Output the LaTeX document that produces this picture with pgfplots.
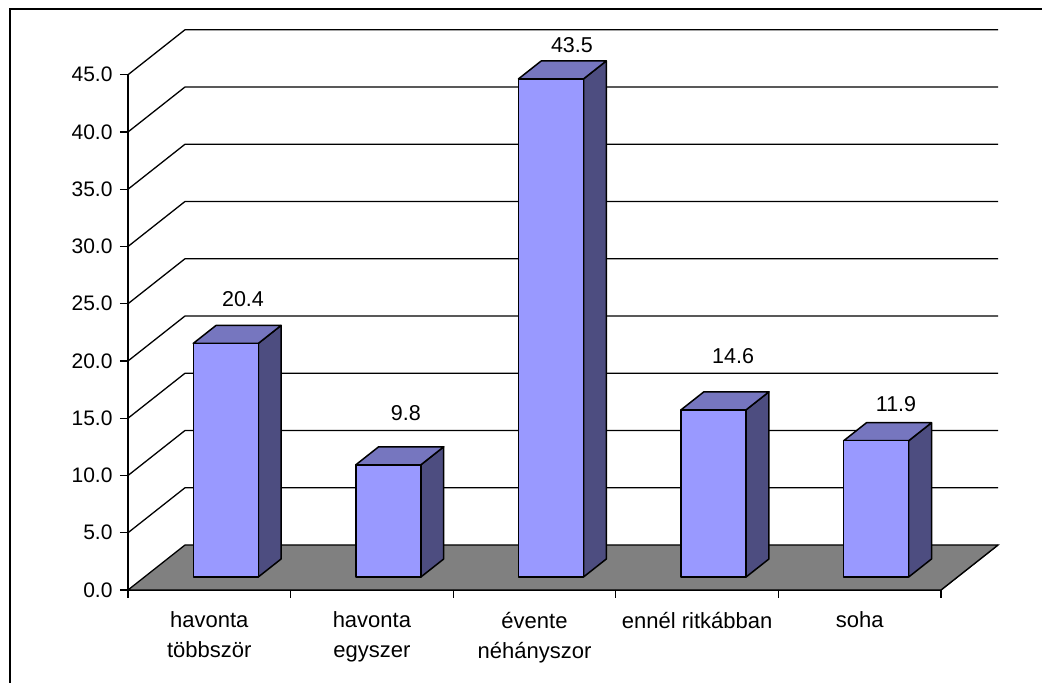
\documentclass[border=0pt]{standalone}
\usepackage{pgfplots}
\pgfplotsset{compat=1.18}
\usepackage{fontspec}
\setmainfont{Liberation Sans}
\definecolor{barfront}{HTML}{9999FF}
\definecolor{barside}{HTML}{4D4D80}
\definecolor{bartop}{HTML}{7676BF}
\definecolor{floorgray}{HTML}{808080}
% one 3D column: left x, right x, value
\newcommand{\column}[3]{%
  \addplot3[draw=black,line width=1.5pt,line join=round,fill=barside,forget plot] coordinates {(#2,0.289,0) (#2,0.689,0) (#2,0.689,#3) (#2,0.289,#3)} -- cycle;
  \addplot3[draw=black,line width=1.5pt,line join=round,fill=bartop,forget plot] coordinates {(#1,0.289,#3) (#2,0.289,#3) (#2,0.689,#3) (#1,0.689,#3)} -- cycle;
  \addplot3[draw=black,line width=1.5pt,line join=round,fill=barfront,forget plot] coordinates {(#1,0.289,0) (#2,0.289,0) (#2,0.289,#3) (#1,0.289,#3)} -- cycle;
}
% one gridline along the side wall and the back wall
\newcommand{\gridat}[1]{%
  \addplot3[draw=black,line width=1.3pt,forget plot] coordinates {(0,0,#1) (0,1,#1) (5,1,#1)};
}
\begin{document}
\begin{tikzpicture}[x=1pt,y=1pt]
\useasboundingbox (0,0) rectangle (1042,683);
\draw[line width=2pt] (10,0) -- (10,673.5) -- (1042,673.5);
\begin{axis}[
  at={(128pt,93pt)}, anchor=origin,
  x={(162.6pt,0pt)}, y={(57pt,45pt)}, z={(0pt,11.45pt)},
  xmin=0, xmax=5, ymin=0, ymax=1, zmin=0, zmax=45,
  clip=false,
  axis lines=left,
  axis line style={-,line width=1.3pt,black},
  tick style={black,line width=1.3pt},
  major tick length=0pt,
  minor tick length=0pt,
  ytick=\empty,
  xtick={0.5,1.5,2.5,3.5,4.5},
  xticklabels={{havonta\\többször},{havonta\\egyszer},{évente\\néhányszor},{ennél ritkábban},{soha}},
  x tick label style={font=\fontsize{22}{30}\selectfont,align=center,anchor=north,yshift=-18.5pt},
  ztick={0,5,...,45},
  z tick label style={font=\fontsize{21}{24}\selectfont,anchor=east,xshift=-12pt},
  /pgf/number format/assume math mode=true,
  /pgf/number format/fixed,
  /pgf/number format/fixed zerofill,
  /pgf/number format/precision=1,
]
% floor
\addplot3[draw=black,line width=1.3pt,fill=floorgray,forget plot] coordinates {(0,0,0) (5,0,0) (5,1,0) (0,1,0)} -- cycle;
% gridlines
\gridat{5}\gridat{10}\gridat{15}\gridat{20}\gridat{25}\gridat{30}\gridat{35}\gridat{40}\gridat{45}
% tick marks
\addplot3[draw=black,line width=1.3pt,forget plot] coordinates {(0,0,0) (0,0,-0.7)};
\addplot3[draw=black,line width=1.3pt,forget plot] coordinates {(1,0,0) (1,0,-0.7)};
\addplot3[draw=black,line width=1.3pt,forget plot] coordinates {(2,0,0) (2,0,-0.7)};
\addplot3[draw=black,line width=1.3pt,forget plot] coordinates {(3,0,0) (3,0,-0.7)};
\addplot3[draw=black,line width=1.3pt,forget plot] coordinates {(4,0,0) (4,0,-0.7)};
\addplot3[draw=black,line width=1.3pt,forget plot] coordinates {(5,0,0) (5,0,-0.7)};
\addplot3[draw=black,line width=1.3pt,forget plot] coordinates {(-0.05,0,0) (0,0,0)};
\addplot3[draw=black,line width=1.3pt,forget plot] coordinates {(-0.05,0,5) (0,0,5)};
\addplot3[draw=black,line width=1.3pt,forget plot] coordinates {(-0.05,0,10) (0,0,10)};
\addplot3[draw=black,line width=1.3pt,forget plot] coordinates {(-0.05,0,15) (0,0,15)};
\addplot3[draw=black,line width=1.3pt,forget plot] coordinates {(-0.05,0,20) (0,0,20)};
\addplot3[draw=black,line width=1.3pt,forget plot] coordinates {(-0.05,0,25) (0,0,25)};
\addplot3[draw=black,line width=1.3pt,forget plot] coordinates {(-0.05,0,30) (0,0,30)};
\addplot3[draw=black,line width=1.3pt,forget plot] coordinates {(-0.05,0,35) (0,0,35)};
\addplot3[draw=black,line width=1.3pt,forget plot] coordinates {(-0.05,0,40) (0,0,40)};
\addplot3[draw=black,line width=1.3pt,forget plot] coordinates {(-0.05,0,45) (0,0,45)};
% columns
\column{0.30}{0.70}{20.4}
\column{1.30}{1.70}{9.8}
\column{2.30}{2.70}{43.5}
\column{3.30}{3.70}{14.6}
\column{4.30}{4.70}{11.9}
% value labels
\node[font=\fontsize{21.5}{24}\selectfont] at (axis cs:0.532,0.5,23.4) {20.4};
\node[font=\fontsize{21.5}{24}\selectfont] at (axis cs:1.534,0.5,13.5) {9.8};
\node[font=\fontsize{21.5}{24}\selectfont] at (axis cs:2.555,0.5,45.6) {43.5};
\node[font=\fontsize{21.5}{24}\selectfont] at (axis cs:3.546,0.5,18.5) {14.6};
\node[font=\fontsize{21.5}{24}\selectfont] at (axis cs:4.548,0.5,14.3) {11.9};
\end{axis}
\end{tikzpicture}
\end{document}
